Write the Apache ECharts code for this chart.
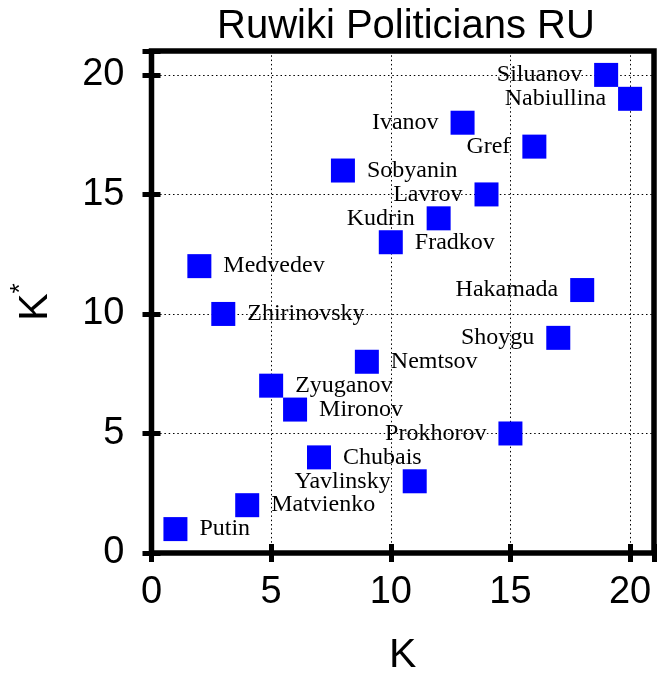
<!DOCTYPE html>
<html>
<head>
<meta charset="utf-8">
<script src="https://cdn.jsdelivr.net/npm/echarts@6/dist/echarts.min.js"></script>
<style>
html,body{margin:0;padding:0;background:#fff;}
#chart{width:659px;height:673px;}
</style>
</head>
<body>
<div id="chart"></div>
<script>
const names = ['Putin','Matvienko','Yavlinsky','Chubais','Prokhorov','Mironov','Zyuganov','Nemtsov','Shoygu','Zhirinovsky','Hakamada','Medvedev','Fradkov','Kudrin','Lavrov','Sobyanin','Gref','Ivanov','Nabiullina','Siluanov'];
const kValues = [1,4,11,7,15,6,5,9,17,3,18,2,10,12,14,8,16,13,20,19];
const kStarValues = [1,2,3,4,5,6,7,8,9,10,11,12,13,14,15,16,17,18,19,20];
const tickLabels = ['0','5','10','15','20'];
const leftLabeled = ['Yavlinsky','Prokhorov','Shoygu','Hakamada','Kudrin','Lavrov','Gref','Ivanov','Nabiullina','Siluanov'];

const chart = echarts.init(document.getElementById('chart'), null, {renderer:'canvas'});
const tickFmt = v => tickLabels.includes(String(v)) ? String(v) : '';
const sans = 'Liberation Sans';
const serif = 'Liberation Serif';

const data = names.map((n, i) => ({
  name: n,
  value: [kValues[i], kStarValues[i]],
  label: { position: leftLabeled.includes(n) ? 'left' : 'right' }
}));

const baseAxis = {
  type: 'value', min: 0, max: 21, interval: 5,
  axisLine: { show: false },
  axisTick: { show: true, inside: true, length: 9, lineStyle: { color: '#000', width: 5 } }
};
const gridDots = { show: true, lineStyle: { type: [1.5, 2.8], color: '#000', width: 1 } };

chart.setOption({
  animation: false,
  backgroundColor: '#fff',
  title: {
    text: 'Ruwiki Politicians RU',
    left: 212, top: 2,
    textStyle: { fontFamily: sans, fontSize: 40, fontWeight: 'normal', color: '#000' }
  },
  grid: {
    left: 151.5, right: 5, top: 51, bottom: 120,
    containLabel: false, outerBoundsMode: 'none',
    show: true, borderColor: '#000', borderWidth: 5.5, backgroundColor: 'transparent'
  },
  xAxis: [
    Object.assign({}, baseAxis, {
      position: 'bottom',
      name: 'K', nameLocation: 'middle', nameGap: 82,
      nameTextStyle: { fontFamily: sans, fontSize: 41, color: '#000' },
      axisLabel: { formatter: tickFmt, margin: 21, fontFamily: sans, fontSize: 38, color: '#000' },
      splitLine: gridDots
    }),
    Object.assign({}, baseAxis, { position: 'top', axisLabel: { show: false }, splitLine: { show: false } })
  ],
  yAxis: [
    Object.assign({}, baseAxis, {
      position: 'left',
      name: '{k|K}{s|*}', nameLocation: 'middle', nameGap: 88, nameRotate: 90,
      nameTextStyle: {
        fontFamily: sans, fontSize: 41, color: '#000',
        rich: {
          k: { fontFamily: sans, fontSize: 41, color: '#000' },
          s: { fontFamily: sans, fontSize: 26, color: '#000', padding: [0, 0, 30, 0] }
        }
      },
      axisLabel: { formatter: tickFmt, margin: 27, fontFamily: sans, fontSize: 38, color: '#000' },
      splitLine: gridDots
    }),
    Object.assign({}, baseAxis, { position: 'right', axisLabel: { show: false }, splitLine: { show: false } })
  ],
  series: [{
    type: 'scatter',
    symbol: 'rect',
    symbolSize: 24,
    itemStyle: { color: '#0000ff', opacity: 1 },
    label: {
      show: true,
      formatter: p => p.name,
      distance: 12,
      fontFamily: serif, fontSize: 24, color: '#000'
    },
    emphasis: { disabled: true },
    data: data,
    z: 3
  }]
});
</script>
</body>
</html>
